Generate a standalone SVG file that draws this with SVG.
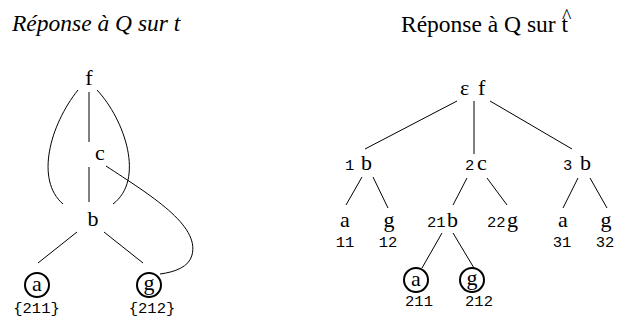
<svg xmlns="http://www.w3.org/2000/svg" width="617" height="320" viewBox="0 0 617 320">
<rect width="617" height="320" fill="#fff"/>
<text x="12" y="31" font-size="23.5" font-style="italic" style="font-family:'Liberation Serif'">Réponse à Q sur t</text>
<text x="401" y="32" font-size="23.5" style="font-family:'Liberation Serif'">Réponse à Q sur t</text>
<text x="562" y="23" font-size="20" style="font-family:'Liberation Serif'">^</text>
<g id="connectors" fill="none" stroke="#000" stroke-width="1">
<line x1="89" y1="92" x2="89" y2="142"/>
<line x1="89" y1="167" x2="89" y2="202"/>
<path d="M78,90 C50,125 35,180 63,204"/>
<path d="M97,90 C125,120 145,180 113,204"/>
<line x1="77" y1="232" x2="38" y2="263"/>
<line x1="104" y1="232" x2="143" y2="263"/>
<path d="M106,166 C150,195 200,225 192,255 C189,267 175,272 160,274"/>
<line x1="457" y1="101" x2="365" y2="149"/>
<line x1="474" y1="101" x2="474" y2="154"/>
<line x1="490" y1="101" x2="572" y2="149"/>
<line x1="362" y1="177" x2="346" y2="205"/>
<line x1="373" y1="177" x2="388" y2="208"/>
<line x1="467" y1="178" x2="453" y2="205"/>
<line x1="487" y1="178" x2="507" y2="205"/>
<line x1="578" y1="178" x2="563" y2="208"/>
<line x1="590" y1="178" x2="607" y2="208"/>
<line x1="442" y1="233" x2="422" y2="268"/>
<line x1="453" y1="233" x2="474" y2="268"/>
</g>
<g id="rings" fill="none" stroke="#000" stroke-width="2">
<circle cx="37" cy="285" r="12"/>
<circle cx="149" cy="285" r="12"/>
<circle cx="416" cy="280" r="12"/>
<circle cx="472" cy="280" r="12"/>
</g>
<g id="L_f"><text x="89" y="85" text-anchor="middle" font-size="22" style="font-family:'Liberation Serif'">f</text></g>
<g id="L_c"><text x="100" y="160" text-anchor="middle" font-size="22" style="font-family:'Liberation Serif'">c</text></g>
<g id="L_b"><text x="93" y="226" text-anchor="middle" font-size="22" style="font-family:'Liberation Serif'">b</text></g>
<g id="L_a"><text x="37" y="291" text-anchor="middle" font-size="22" style="font-family:'Liberation Serif'">a</text><text x="36.5" y="313" text-anchor="middle" font-size="15.5" style="font-family:'Liberation Mono'">{211}</text></g>
<g id="L_g"><text x="149" y="290" text-anchor="middle" font-size="22" style="font-family:'Liberation Serif'">g</text><text x="152" y="313" text-anchor="middle" font-size="15.5" style="font-family:'Liberation Mono'">{212}</text></g>
<g id="R_f"><text x="460" y="95" font-size="22" style="font-family:'Liberation Serif'">ε</text><text x="478" y="95" font-size="22" style="font-family:'Liberation Serif'">f</text></g>
<g id="R_1b"><text x="345" y="170" font-size="15.5" style="font-family:'Liberation Mono'">1</text><text x="361" y="170" font-size="22" style="font-family:'Liberation Serif'">b</text></g>
<g id="R_2c"><text x="465" y="170" font-size="15.5" style="font-family:'Liberation Mono'">2</text><text x="477" y="170" font-size="22" style="font-family:'Liberation Serif'">c</text></g>
<g id="R_3b"><text x="563" y="170" font-size="15.5" style="font-family:'Liberation Mono'">3</text><text x="580" y="170" font-size="22" style="font-family:'Liberation Serif'">b</text></g>
<g id="R_11a"><text x="345" y="227" text-anchor="middle" font-size="22" style="font-family:'Liberation Serif'">a</text><text x="345" y="247" text-anchor="middle" font-size="15.5" style="font-family:'Liberation Mono'">11</text></g>
<g id="R_12g"><text x="389" y="227" text-anchor="middle" font-size="22" style="font-family:'Liberation Serif'">g</text><text x="388" y="247" text-anchor="middle" font-size="15.5" style="font-family:'Liberation Mono'">12</text></g>
<g id="R_21b"><text x="427" y="227" font-size="15.5" style="font-family:'Liberation Mono'">21</text><text x="447" y="227" font-size="22" style="font-family:'Liberation Serif'">b</text></g>
<g id="R_22g"><text x="487" y="227" font-size="15.5" style="font-family:'Liberation Mono'">22</text><text x="507" y="227" font-size="22" style="font-family:'Liberation Serif'">g</text></g>
<g id="R_31a"><text x="563" y="227" text-anchor="middle" font-size="22" style="font-family:'Liberation Serif'">a</text><text x="562" y="247" text-anchor="middle" font-size="15.5" style="font-family:'Liberation Mono'">31</text></g>
<g id="R_32g"><text x="606" y="227" text-anchor="middle" font-size="22" style="font-family:'Liberation Serif'">g</text><text x="605" y="247" text-anchor="middle" font-size="15.5" style="font-family:'Liberation Mono'">32</text></g>
<g id="R_211a"><text x="416" y="286" text-anchor="middle" font-size="22" style="font-family:'Liberation Serif'">a</text><text x="419" y="306" text-anchor="middle" font-size="15.5" style="font-family:'Liberation Mono'">211</text></g>
<g id="R_212g"><text x="472" y="285" text-anchor="middle" font-size="22" style="font-family:'Liberation Serif'">g</text><text x="479" y="306" text-anchor="middle" font-size="15.5" style="font-family:'Liberation Mono'">212</text></g>
</svg>
